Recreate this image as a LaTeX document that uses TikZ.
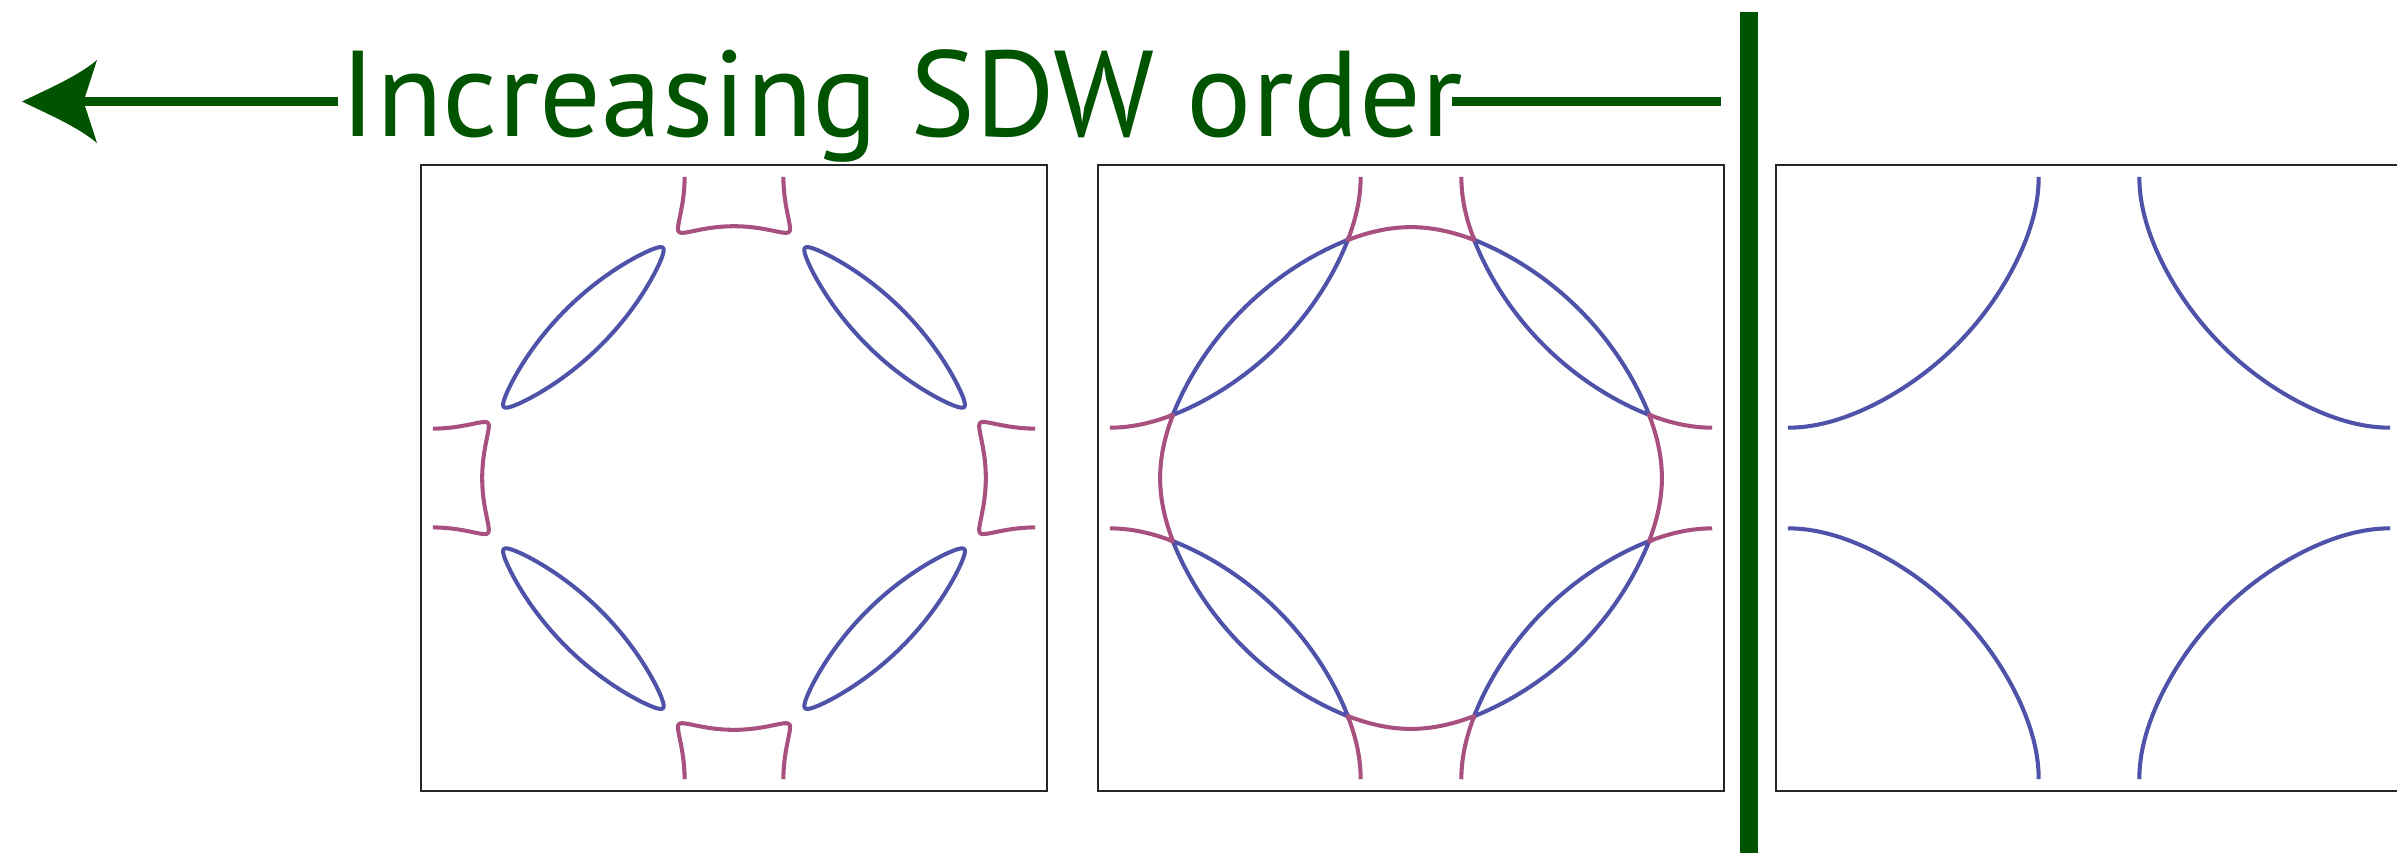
\documentclass[tikz,border=0pt]{standalone}
\usepackage{fontspec}
\setmainfont{PT Sans}
\definecolor{sdwgreen}{RGB}{0,84,0}
\definecolor{fsblue}{RGB}{78,82,168}
\definecolor{fsmag}{RGB}{168,80,128}
\tikzset{
  panelbox/.style={draw=black!85,line width=0.6pt},
  fsb/.style={draw=fsblue,line width=1.15pt,line join=round},
  fsm/.style={draw=fsmag,line width=1.15pt,line join=round},
  greenline/.style={draw=sdwgreen,line width=2.6pt},
  kspace/.style={x=0.016722cm,y=0.016722cm},
  ksmooth/.style={domain=-90:90,samples=81,smooth,variable=\t},
}
\begin{document}
\begin{tikzpicture}[x=0.01cm,y=-0.01cm,
  declare function={
    ac(\x)=acos(min(1,max(-1,\x)));
    bB(\x,\y)=sqrt(max(0,\x*\x+0.625-0.892857*sqrt(16*\x*\x+\y*\y)));
    bM(\x,\y)=sqrt(\x*\x+0.625+0.892857*sqrt(16*\x*\x+\y*\y));
    blx(\x,\y,\z)=ac(\y*sin(\x)+bB(\y*sin(\x),\z));
    bly(\x,\y,\z)=ac(\y*sin(\x)-bB(\y*sin(\x),\z));
    mgx(\x,\y,\z)=ac(\y*sin(\x)+bM(\y*sin(\x),\z));
    mgy(\x,\y,\z)=ac(\y*sin(\x)-bM(\y*sin(\x),\z));
    fA(\x)=ac((2*cos(\x)-0.7)/(1.12*cos(\x)-2));
  }]
\useasboundingbox (0,0) rectangle (2397,853);
\fill[white] (0,0) rectangle (2397,853);

% title and arrows
\node[anchor=base west,inner sep=0,text=sdwgreen,font=\fontsize{34.7}{40}\selectfont] (title) at (340,136) {Increasing SDW order};
\coordinate (tip) at (22,101.5);
\coordinate (shaftL) at (84,101.5);
\coordinate (shaftR) at (338,101.5);
\coordinate (lineL) at (1452,101.5);
\coordinate (lineR) at (1721,101.5);
\draw[greenline] (shaftL) -- (shaftR);
\draw[greenline] (lineL) -- (lineR);
\fill[sdwgreen] (tip) .. controls (50,88) and (78,76) .. (97,60)
  -- (85,97) -- (85,106) -- (97,143) .. controls (78,127) and (50,115) .. (tip) -- cycle;
\coordinate (barT) at (1749,12);
\coordinate (barB) at (1749,853);
\draw[draw=sdwgreen,line width=5.1pt] (barT) -- (barB);

% panels
\draw[panelbox] (421,165) rectangle (1047,791);
\draw[panelbox] (1098,165) rectangle (1724,791);
\draw[panelbox] (1776,165) rectangle (2402,791);
\coordinate (c1) at (734,478);
\coordinate (c2) at (1411,478);
\coordinate (c3) at (2089,478);

% panel 1: gapped
\begin{scope}[shift={(c1)},kspace]
\foreach \sx in {1,-1}{\foreach \sy in {1,-1}{
  \draw[fsb] plot[ksmooth] ({\sx*blx(\t,0.1832,0.09)},{\sy*bly(\t,0.1832,0.09)});
  \draw[fsb] plot[ksmooth] ({\sx*bly(\t,0.1832,0.09)},{\sy*blx(\t,0.1832,0.09)});
  \draw[fsm] plot[ksmooth] ({\sx*mgx(\t,0.0649,0.09)},{\sy*mgy(\t,0.0649,0.09)});
  \draw[fsm] plot[ksmooth] ({\sx*mgy(\t,0.0649,0.09)},{\sy*mgx(\t,0.0649,0.09)});
}}
\end{scope}

% panel 2: zero gap
\begin{scope}[shift={(c2)},kspace]
\foreach \sx in {1,-1}{\foreach \sy in {1,-1}{
  \draw[fsb] plot[ksmooth] ({\sx*blx(\t,0.1847,0)},{\sy*bly(\t,0.1847,0)});
  \draw[fsb] plot[ksmooth] ({\sx*bly(\t,0.1847,0)},{\sy*blx(\t,0.1847,0)});
  \draw[fsm] plot[ksmooth] ({\sx*mgx(\t,0.06732,0)},{\sy*mgy(\t,0.06732,0)});
  \draw[fsm] plot[ksmooth] ({\sx*mgy(\t,0.06732,0)},{\sy*mgx(\t,0.06732,0)});
}}
\end{scope}

% panel 3: unreconstructed
\begin{scope}[shift={(c3)},kspace]
\foreach \sx in {1,-1}{\foreach \sy in {1,-1}{
  \draw[fsb] plot[domain=79.37:180,samples=60,smooth] ({\sx*fA(\x)},{\sy*\x});
  \draw[fsb] plot[domain=79.37:180,samples=60,smooth] ({\sx*\x},{\sy*fA(\x)});
}}
\end{scope}
\end{tikzpicture}
\end{document}
